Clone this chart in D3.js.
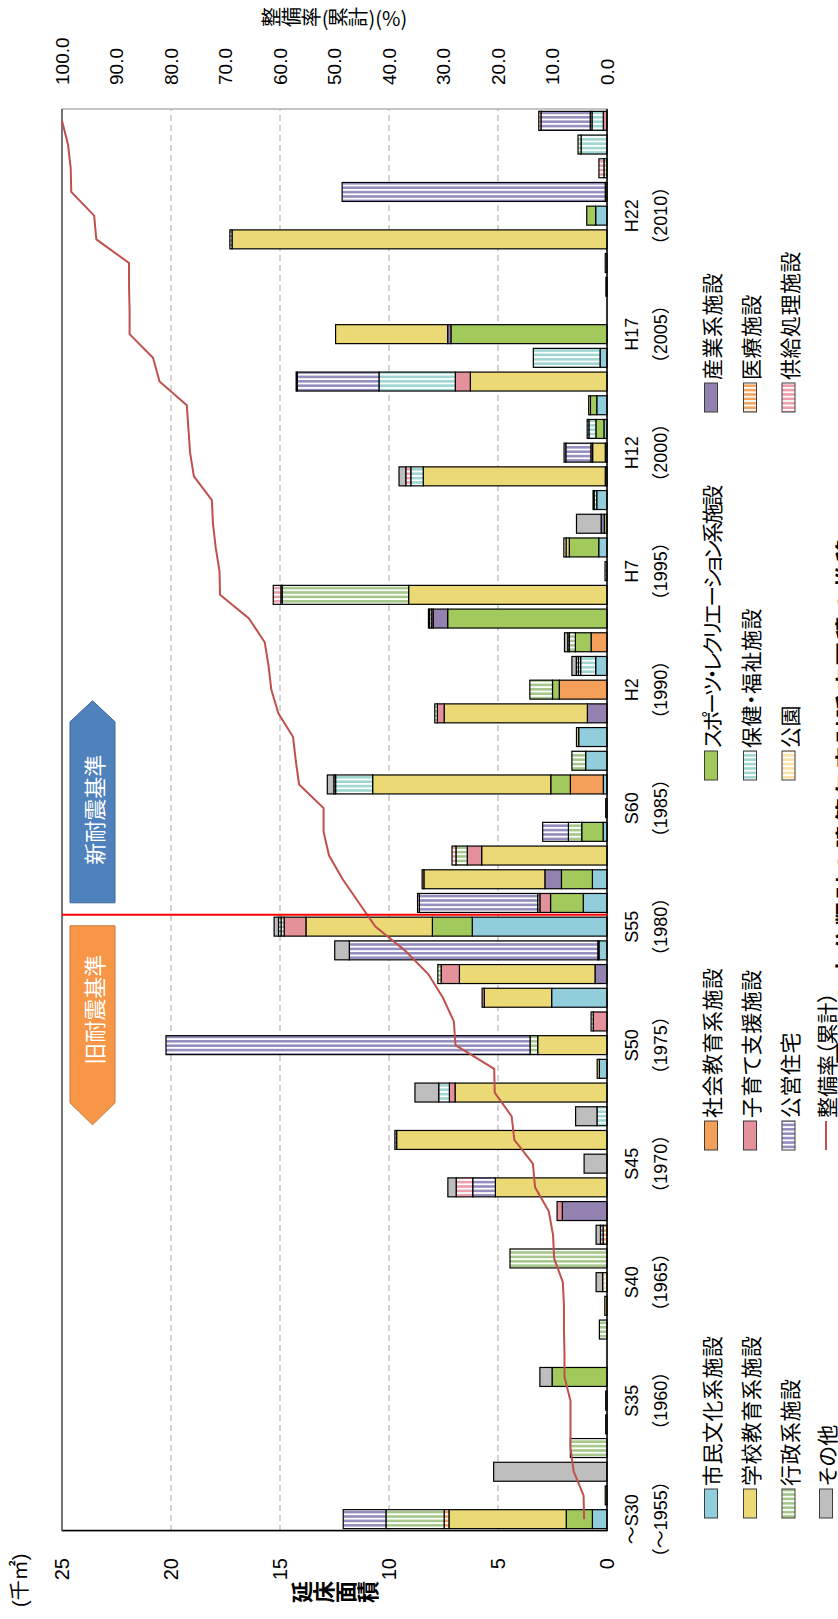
<!DOCTYPE html>
<html lang="ja">
<head>
<meta charset="utf-8">
<title>大分類別の建築年度別延床面積の推移</title>
<script src="https://cdn.jsdelivr.net/npm/d3@7"></script>
<style>
  body { margin: 0; background: #fff; }
  svg { display: block; }
  text { font-family: "Liberation Sans", "Noto Sans CJK JP", sans-serif; fill: #000; }
  .jp { font-family: "Noto Sans CJK JP", sans-serif; }
  .legend text { font-feature-settings: "palt"; }
</style>
</head>
<body>
<svg id="chart"></svg>
<script>
/* values, 千㎡ per construction year */
const years = [1955,1956,1957,1958,1959,1960,1961,1962,1963,1964,
  1965,1966,1967,1968,1969,1970,1971,1972,1973,1974,
  1975,1976,1977,1978,1979,1980,1981,1982,1983,1984,
  1985,1986,1987,1988,1989,1990,1991,1992,1993,1994,
  1995,1996,1997,1998,1999,2000,2001,2002,2003,2004,
  2005,2006,2007,2008,2009,2010,2011,2012,2013,2014];

const cityCulture = [0.67,0,0,0,0,0,0,0,0,0, 0,0,0,0,0,0,0,0,0,0.35,
  0,0,2.54,0,0.37,6.18,1.09,0.67,0,0.18, 0,0.17,0.98,1.3,0,0,0.52,0,0,0,
  0,0.38,0,0.47,0,0.08,0.14,0.47,0,0.32, 0,0,0,0,0,0.52,0,0,0,0];
const socialEdu = [0,0,0,0,0,0,0,0,0,0, 0,0,0,0,0,0,0,0,0,0,
  0,0,0,0,0,0,0,0,0,0, 0,1.51,0,0,0,2.19,0,0.73,0,0,
  0,0,0,0,0,0,0,0,0,0, 0,0,0,0,0,0,0,0,0,0];
const sports = [1.2,0,0,0,0,0,2.52,0,0,0, 0,0,0,0,0,0,0,0,0,0,
  0,0,0,0,0,1.83,1.5,1.42,0,0.98, 0,0.9,0,0,0,0.31,0,0.72,7.31,0,
  0,1.35,0.12,0,0.08,0,0.37,0.29,0,0, 7.16,0,0,0,0,0.41,0,0,0,0];
const industry = [0,0,0,0,0,0,0,0,0,0, 0,0,0,2.05,0,0,0,0,0,0,
  0,0,0,0.55,0,0,0,0.76,0,0, 0,0,0,0,0.9,0,0,0,0.66,0,
  0,0,0.15,0,0,0,0,0,0,0, 0.15,0,0,0,0,0,0,0,0,0];
const school = [5.38,0.08,0,0,0.06,0.06,0,0,0,0.1, 0,0,0,0,5.12,0,9.65,0,6.97,0.1,
  3.18,0,3.09,6.22,0.05,5.8,0,5.55,5.75,0, 0.06,8.17,0,0.1,6.57,0,0,0,0,9.1,
  0,0.15,0,0,8.35,0.58,0,0.08,6.27,0, 5.14,0,0.05,0,17.2,0,0.08,0,0,0];
const childcare = [0,0,0,0,0,0,0,0,0,0, 0,0,0,0.24,0,0,0,0,0.26,0,
  0,0.63,0.1,0.84,0,1.0,0.49,0.08,0.66,0, 0,0,0,0,0.31,0,0,0,0.07,0,
  0,0,0,0,0,0.08,0,0,0.69,0, 0,0,0,0,0,0,0,0,0,0.17];
const medical = [0.22,0,0,0,0,0,0,0,0,0, 0,0,0.18,0,0,0,0,0,0,0,
  0,0,0,0,0,0,0,0,0,0, 0,0,0,0,0,0,0,0,0,0,
  0,0,0,0,0,0,0,0,0,0, 0,0,0,0,0,0,0,0,0,0];
const health = [0,0,0,0,0,0,0,0,0,0, 0,0,0,0,0,0,0,0.46,0.49,0,
  0,0,0,0,0,0,0,0,0,0, 0,1.7,0,0,0,0,0.69,0,0,0,
  0,0,0,0,0.57,0,0.32,0,3.5,3.06, 0,0,0,0,0,0,0,0,1.19,0.52];
const admin = [2.67,0,0,1.68,0,0,0,0,0.35,0, 0,4.45,0,0,0,0,0,0,0,0,
  0.35,0.1,0,0.15,0,0.14,0.1,0,0.52,0.61, 0,0,0.63,0,0.12,1.04,0.1,0.28,0.1,5.8,
  0.09,0,0,0.12,0,0,0,0,0,0, 0,0,0,0.08,0,0,0,0.14,0.14,0.08];
const park = [0,0,0,0,0,0,0,0,0,0, 0.2,0,0,0,0,0,0,0,0,0,
  0,0,0,0,0,0,0,0,0,0, 0,0,0,0,0,0,0,0,0,0,
  0,0.1,0,0,0,0,0,0,0,0, 0,0,0,0,0,0,0,0,0,0];
const housing = [1.96,0,0,0,0,0,0,0,0,0, 0,0,0.12,0,1.04,0,0.08,0,0,0,
  16.7,0,0,0,11.4,0.12,5.43,0,0,1.18, 0,0.08,0,0,0,0,0.1,0.07,0.05,0.06,
  0,0,0,0.05,0,1.15,0.08,0,3.75,0, 0,0,0,0,0.1,0,12.07,0,0,2.26];
const supply = [0,0,0,0,0,0,0,0,0,0, 0,0,0,0,0.76,0,0,0,0,0,
  0,0,0,0,0,0,0.08,0,0.18,0, 0,0,0,0,0,0,0,0,0,0.35,
  0,0,0,0,0.23,0,0,0,0,0, 0,0,0,0,0,0,0,0.23,0,0.1];
const other = [0,0,5.2,0,0,0,0.56,0,0,0, 0.3,0,0.2,0,0.38,1.05,0,0.98,1.09,0,
  0,0,0,0,0.67,0.2,0,0,0,0, 0,0.3,0,0,0,0,0.2,0.15,0,0,
  0,0,1.13,0,0.31,0.08,0,0,0.05,0, 0,0,0,0,0,0,0,0,0,0];

// 整備率（累計）, %
const rate = [4.2,4.3,6.1,6.7,6.7,6.7,7.8,7.8,7.9,7.9,
  8.1,9.7,9.9,10.7,13.2,13.6,17.0,17.5,20.6,20.7,
  27.8,28.1,30.1,32.8,37.1,42.5,45.5,48.5,51.0,52.0,
  52.0,56.5,57.1,57.6,60.3,61.6,62.1,62.8,65.7,71.0,
  71.1,71.8,72.3,72.5,75.8,76.5,76.8,77.1,82.1,83.3,
  87.6,87.6,87.7,87.7,93.7,94.1,98.3,98.4,98.9,100.0];

const categories = ["市民文化系施設","社会教育系施設","スポーツ・レクリエーション系施設","産業系施設",
  "学校教育系施設","子育て支援施設","医療施設","保健・福祉施設","行政系施設","公園",
  "公営住宅","供給処理施設","その他"];
const seriesValues = [cityCulture, socialEdu, sports, industry, school, childcare, medical,
  health, admin, park, housing, supply, other];

const tickYears = [1955,1960,1965,1970,1975,1980,1985,1990,1995,2000,2005,2010];
const tickEra = ["～S30","S35","S40","S45","S50","S55","S60","H2","H7","H12","H17","H22"];
const tickWestern = ["（～1955）","（1960）","（1965）","（1970）","（1975）","（1980）",
  "（1985）","（1990）","（1995）","（2000）","（2005）","（2010）"];
const areaTicks = [0,5,10,15,20,25];
const rateTicks = [0,10,20,30,40,50,60,70,80,90,100];
const newCodeYear = 1981;

/* styling */
const colors = ["#92CDDC","#F4A05A","#A2C95B","#9381B0","#EAD974","#E5919C","#F5A35C",
  "#9FD6D2","#A5C88A","#FBE0A8","#948EC0","#EE9DAA","#BEBEBE"];
const striped = [false,false,false,false,false,false,true,true,true,true,true,true,false];
const lineColor = "#C0504D";

const width = 838, height = 1619;
// the chart is laid out landscape (height x width) and turned a quarter left
const plot = {left: 88, right: 1510, top: 62, bottom: 607};

const svg = d3.select("#chart").attr("width", width).attr("height", height);
const defs = svg.append("defs");
const g = svg.append("g").attr("transform", "translate(0," + height + ") rotate(-90)");

categories.forEach((c, k) => {
  if (!striped[k]) return;
  const p = defs.append("pattern").attr("id", "pat" + k)
    .attr("patternUnits", "userSpaceOnUse").attr("width", 4.4).attr("height", 10);
  p.append("rect").attr("width", 4.4).attr("height", 10).attr("fill", "#fff");
  p.append("rect").attr("width", 2.6).attr("height", 10).attr("fill", colors[k]);
});
const fillOf = k => striped[k] ? "url(#pat" + k + ")" : colors[k];

const xScale = d3.scaleBand().domain(years).range([plot.left, plot.right])
  .paddingInner(0.2).paddingOuter(0.1);
const yScale = d3.scaleLinear().domain([0, 25]).range([plot.bottom, plot.top]);
const pctScale = d3.scaleLinear().domain([0, 100]).range([plot.bottom, plot.top]);

const rows = years.map((y, i) => {
  const r = {year: y};
  categories.forEach((c, k) => { r[c] = seriesValues[k][i]; });
  return r;
});
const stacked = d3.stack().keys(categories)(rows);

// plot frame and grid
g.append("rect").attr("x", plot.left).attr("y", plot.top)
  .attr("width", plot.right - plot.left).attr("height", plot.bottom - plot.top)
  .attr("fill", "#fff").attr("stroke", "#8c8c8c").attr("stroke-width", 1);
g.append("line").attr("x1", plot.left).attr("x2", plot.right)
  .attr("y1", plot.top).attr("y2", plot.top).attr("stroke", "#404040").attr("stroke-width", 1.2);
g.append("g").selectAll("line").data(areaTicks.filter(d => d > 0 && d < 25)).enter()
  .append("line")
  .attr("x1", plot.left).attr("x2", plot.right)
  .attr("y1", d => yScale(d)).attr("y2", d => yScale(d))
  .attr("stroke", "#a6a6a6").attr("stroke-width", 1).attr("stroke-dasharray", "6,4");

// bars
g.append("g").selectAll("g").data(stacked).enter().append("g")
  .attr("fill", (d, k) => fillOf(k))
  .selectAll("rect").data(d => d.filter(s => s[1] - s[0] > 0)).enter().append("rect")
  .attr("x", d => xScale(d.data.year))
  .attr("width", xScale.bandwidth())
  .attr("y", d => yScale(d[1]))
  .attr("height", d => yScale(d[0]) - yScale(d[1]))
  .attr("stroke", "#000").attr("stroke-width", 1.2);

// axes
const yAxis = d3.axisLeft(yScale).tickValues(areaTicks).tickSize(0).tickPadding(27);
g.append("g").attr("transform", "translate(" + plot.left + ",0)").call(yAxis)
  .call(a => a.select(".domain").attr("stroke", "#000").attr("stroke-width", 1.5))
  .selectAll("text").attr("font-size", 20).attr("font-family", "Liberation Sans, sans-serif");

const rateAxis = d3.axisRight(pctScale).tickValues(rateTicks).tickFormat(d3.format(".1f"))
  .tickSize(0).tickPadding(24);
g.append("g").attr("transform", "translate(" + plot.right + ",0)").call(rateAxis)
  .call(a => a.select(".domain").remove())
  .selectAll("text").attr("font-size", 19).attr("font-family", "Liberation Sans, sans-serif");

g.append("line").attr("x1", plot.left).attr("x2", plot.right)
  .attr("y1", plot.bottom).attr("y2", plot.bottom)
  .attr("stroke", "#000").attr("stroke-width", 1.5);

const mid = y => xScale(y) + xScale.bandwidth() / 2;
const catLabels = g.append("g").attr("font-size", 18).attr("text-anchor", "middle");
catLabels.selectAll(".era").data(tickYears).enter().append("text").attr("class", "era")
  .attr("x", d => mid(d)).attr("y", 632).attr("dominant-baseline", "central")
  .text((d, i) => tickEra[i]);
catLabels.selectAll(".ad").data(tickYears).enter().append("text").attr("class", "ad")
  .attr("x", d => mid(d)).attr("y", 661).attr("dominant-baseline", "central")
  .text((d, i) => tickWestern[i]);

// earthquake code boundary and the two arrows
const step = xScale.step();
const bx = xScale(newCodeYear) - step * xScale.paddingInner() / 2;
const arrowTop = 70, arrowBot = 115, arrowMid = (arrowTop + arrowBot) / 2;
g.append("polygon")
  .attr("points", [[bx + 12, arrowTop], [bx + 193, arrowTop], [bx + 214, arrowMid],
    [bx + 193, arrowBot], [bx + 12, arrowBot]].join(" "))
  .attr("fill", "#4F81BD").attr("stroke", "#3B6797").attr("stroke-width", 1);
g.append("text").attr("class", "jp").attr("x", bx + 105).attr("y", arrowMid)
  .attr("text-anchor", "middle").attr("dominant-baseline", "central")
  .attr("font-size", 22).style("fill", "#fff").text("新耐震基準");
g.append("polygon")
  .attr("points", [[bx - 11, arrowTop], [bx - 188, arrowTop], [bx - 210, arrowMid],
    [bx - 188, arrowBot], [bx - 11, arrowBot]].join(" "))
  .attr("fill", "#F79646").attr("stroke", "#C7793A").attr("stroke-width", 1);
g.append("text").attr("class", "jp").attr("x", bx - 95).attr("y", arrowMid)
  .attr("text-anchor", "middle").attr("dominant-baseline", "central")
  .attr("font-size", 22).style("fill", "#fff").text("旧耐震基準");

// cumulative rate line
const rateLine = d3.line().x((d, i) => mid(years[i])).y(d => pctScale(d));
g.append("path").datum(rate).attr("d", rateLine)
  .attr("fill", "none").attr("stroke", lineColor).attr("stroke-width", 2);

g.append("line").attr("x1", bx).attr("x2", bx).attr("y1", plot.top).attr("y2", plot.bottom)
  .attr("stroke", "#ff0000").attr("stroke-width", 2);

// axis titles
g.append("text").attr("x", 12).attr("y", 20).attr("dominant-baseline", "central")
  .attr("font-size", 20).text("(千㎡)");
g.append("text").attr("class", "jp").attr("x", 27).attr("y", (plot.top + plot.bottom) / 2)
  .attr("text-anchor", "middle").style("writing-mode", "vertical-rl")
  .attr("font-size", 22).attr("font-weight", "bold").text("延床面積");
g.append("text").attr("class", "jp").attr("x", 1602).attr("y", (plot.top + plot.bottom) / 2)
  .attr("text-anchor", "middle").style("writing-mode", "vertical-rl")
  .attr("font-size", 20).text("整備率(累計)(%)");

// legend
const legendCols = [101, 469, 839, 1207];
const legendRows = [711, 750, 788.5, 826];
const legendSlots = [[0,0,0],[4,0,1],[8,0,2],[12,0,3],
  [1,1,0],[5,1,1],[10,1,2],
  [2,2,0],[7,2,1],[9,2,2],
  [3,3,0],[6,3,1],[11,3,2]];
const legend = g.append("g").attr("class", "jp legend").attr("font-size", 21);
legendSlots.forEach(([k, c, r]) => {
  legend.append("rect").attr("x", legendCols[c]).attr("y", legendRows[r] - 6.5)
    .attr("width", 29).attr("height", 13)
    .attr("fill", fillOf(k)).attr("stroke", "#3c3c3c").attr("stroke-width", 1);
  legend.append("text").attr("class", "jp").attr("x", legendCols[c] + 32).attr("y", legendRows[r])
    .attr("dominant-baseline", "central")
    .attr("letter-spacing", categories[k].length > 10 ? -2.5 : 0.5)
    .text(categories[k]);
});
legend.append("line").attr("x1", legendCols[1]).attr("x2", legendCols[1] + 29)
  .attr("y1", legendRows[3]).attr("y2", legendRows[3])
  .attr("stroke", lineColor).attr("stroke-width", 2);
legend.append("text").attr("class", "jp").attr("x", legendCols[1] + 32).attr("y", legendRows[3])
  .attr("dominant-baseline", "central").text("整備率（累計）");

// caption, partly beyond the right edge as in the source
g.append("text").attr("class", "jp").attr("x", 819).attr("y", 845)
  .attr("text-anchor", "middle").attr("dominant-baseline", "central")
  .attr("font-size", 23).attr("font-weight", "bold").attr("letter-spacing", 3)
  .text("図 2-4  大分類別の建築年度別延床面積の推移");
</script>
</body>
</html>
